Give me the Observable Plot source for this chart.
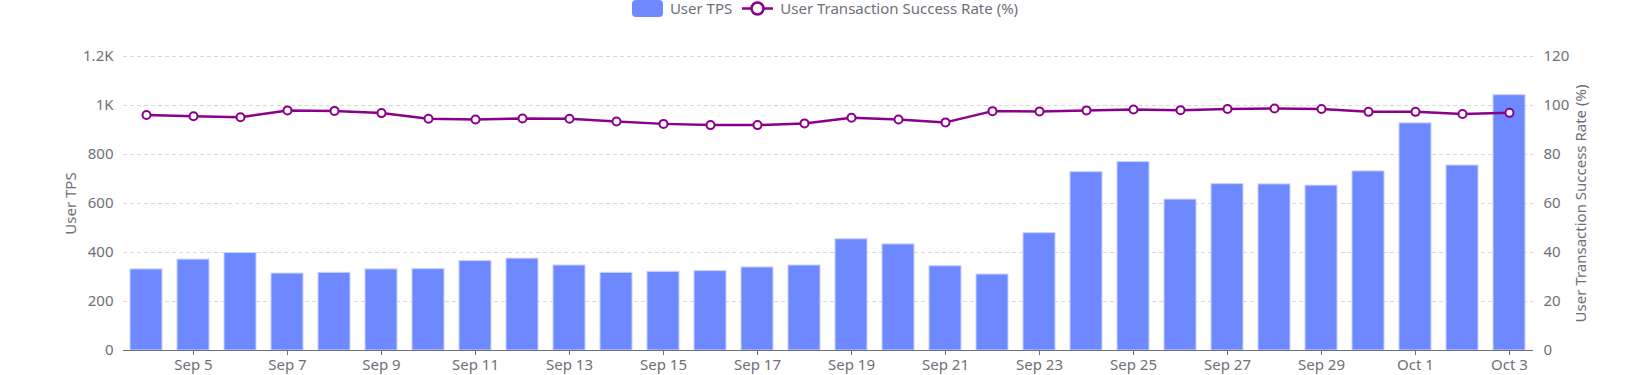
<!DOCTYPE html>
<html>
<head>
<meta charset="utf-8">
<script src="https://cdn.jsdelivr.net/npm/d3@7"></script>
<script src="https://cdn.jsdelivr.net/npm/@observablehq/plot@0.6"></script>
<style>
  html, body { margin: 0; padding: 0; background: #fff; }
  body { width: 1650px; height: 375px; overflow: hidden; font-family: "Noto Sans", sans-serif; }
  #legend { height: 20px; display: flex; justify-content: center; align-items: flex-start; font-size: 15px; color: #6e7079; line-height: 17px; }
  .item { display: flex; align-items: center; margin: 0 5px; }
  .sw { width: 31px; height: 17px; margin-right: 7px; }
  .bar { background: #6e88ff; border-radius: 4px; }
</style>
</head>
<body>
<div id="legend">
  <div class="item"><div class="sw bar"></div><span>User TPS</span></div>
  <div class="item"><svg class="sw" width="31" height="17"><line x1="0" x2="31" y1="8.5" y2="8.5" stroke="#8b008b" stroke-width="2.5"/><circle cx="15.5" cy="8.5" r="6" fill="#fff" stroke="#8b008b" stroke-width="2.5"/></svg><span>User Transaction Success Rate (%)</span></div>
</div>
<div id="chart"></div>
<script>
const days = ["Sep 4","Sep 5","Sep 6","Sep 7","Sep 8","Sep 9","Sep 10","Sep 11","Sep 12","Sep 13","Sep 14","Sep 15","Sep 16","Sep 17","Sep 18","Sep 19","Sep 20","Sep 21","Sep 22","Sep 23","Sep 24","Sep 25","Sep 26","Sep 27","Sep 28","Sep 29","Sep 30","Oct 1","Oct 2","Oct 3"];
const userTPS = [331,371,398,314,317,331,332,365,375,347,317,321,324,339,347,454,433,344,310,479,728,769,616,679,678,673,731,927,755,1042];
const successRate = [96.1,95.6,95.2,98.0,97.8,96.9,94.6,94.3,94.7,94.6,93.5,92.5,92.0,92.0,92.7,95.0,94.3,93.1,97.7,97.6,98.0,98.4,98.1,98.6,98.8,98.6,97.4,97.4,96.5,97.0];
const xTicks = ["Sep 5","Sep 7","Sep 9","Sep 11","Sep 13","Sep 15","Sep 17","Sep 19","Sep 21","Sep 23","Sep 25","Sep 27","Sep 29","Oct 1","Oct 3"];
const leftTicks = [0,200,400,600,800,1000,1200];
const leftTickLabels = ["0","200","400","600","800","1K","1.2K"];
const rightTickLabels = ["0","20","40","60","80","100","120"];

const data = days.map((d, i) => ({day: d, tps: userTPS[i], rate: successRate[i]}));
const grey = "#6e7079";

const chart = Plot.plot({
  width: 1650,
  height: 355,
  marginTop: 36,
  marginBottom: 25,
  marginLeft: 123,
  marginRight: 117,
  style: {fontFamily: "Noto Sans, sans-serif", fontSize: "15px", color: grey, background: "#fff"},
  x: {type: "band", domain: days, paddingInner: 0.31, paddingOuter: 0.155},
  y: {domain: [0, 1200]},
  marks: [
    Plot.gridY(leftTicks.slice(1), {stroke: "#d9d9d9", strokeOpacity: 1, strokeDasharray: "4,3", strokeWidth: 1}),
    Plot.barY(data, {x: "day", y: "tps", fill: "#6e88ff", stroke: "#c8d2ff", strokeWidth: 1}),
    Plot.ruleY([0], {stroke: grey, strokeWidth: 1.2}),
    Plot.axisX({ticks: xTicks, tickSize: 5, tickPadding: 4, stroke: grey, fill: grey, fontSize: 15, label: null}),
    Plot.axisY({anchor: "left", ticks: leftTicks, tickSize: 0, tickPadding: 10, tickFormat: d => leftTickLabels[leftTicks.indexOf(d)], fill: grey, fontSize: 15, label: "User TPS", labelAnchor: "center", labelOffset: 58, labelArrow: "none"}),
    Plot.axisY({anchor: "right", ticks: leftTicks, tickSize: 0, tickPadding: 10, tickFormat: d => rightTickLabels[leftTicks.indexOf(d)], fill: grey, fontSize: 15, label: "User Transaction Success Rate (%)", labelAnchor: "center", labelOffset: 52, labelArrow: "none"}),
    Plot.line(data, {x: "day", y: d => d.rate * 10, stroke: "#8b008b", strokeWidth: 2.5}),
    Plot.dot(data, {x: "day", y: d => d.rate * 10, r: 4, fill: "#fff", stroke: "#8b008b", strokeWidth: 2})
  ]
});
document.getElementById("chart").appendChild(chart);
</script>
</body>
</html>
